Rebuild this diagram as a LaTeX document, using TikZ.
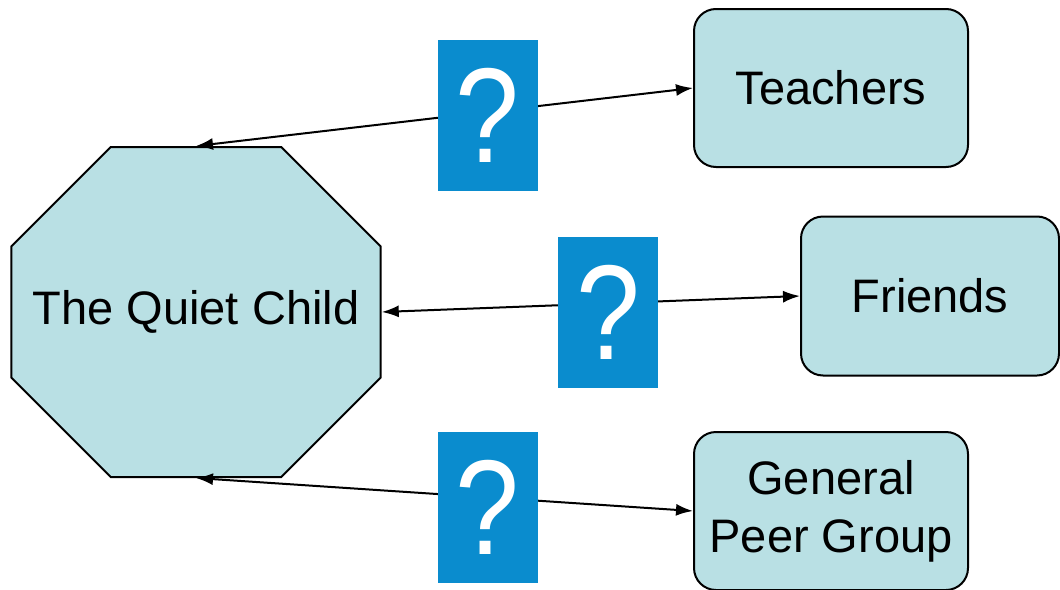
\documentclass[tikz,border=0pt]{standalone}
\usepackage{fontspec}
\setmainfont{Liberation Sans}
\usetikzlibrary{shapes.misc,arrows.meta}
\definecolor{boxfill}{RGB}{185,224,228}
\definecolor{qblue}{RGB}{10,140,206}

\begin{document}
\begin{tikzpicture}[x=1pt,y=-1pt,
  octa/.style={draw,line width=2pt,fill=boxfill,chamfered rectangle,
    chamfered rectangle xsep=80pt,chamfered rectangle ysep=78pt,
    minimum width=360pt,minimum height=330pt,inner sep=0pt,
    font=\fontsize{47}{57}\selectfont},
  peerbox/.style={draw,line width=2pt,fill=boxfill,rounded corners=22pt,
    minimum width=274pt,minimum height=158pt,align=center,inner sep=0pt,
    font=\fontsize{47}{58}\selectfont},
  qmark/.style={fill=qblue,text=white,minimum width=100pt,minimum height=151pt,
    inner sep=0pt,font=\fontsize{135}{135}\selectfont},
  link/.style={line width=2pt,{Latex[length=17pt,width=12pt]}-{Latex[length=17pt,width=12pt]}}]
\useasboundingbox (0,0) rectangle (1060,589);

\node[octa] (quiet) at (196,312) {The Quiet Child};
\node[peerbox] (teach) at (831,88) {Teachers};
\node[peerbox,minimum width=258pt,minimum height=159pt] (friend) at (930,296) {Friends};
\node[peerbox] (peer) at (831,511) {General\\Peer Group};

% connectors
\draw[link] (quiet.north) -- (teach.west);
\draw[link] (quiet.east) -- (friend.west);
\draw[link] (quiet.south) -- (peer.west);

% the unknowns
\node[qmark] (q1) at (487.5,115.5) {\scalebox{0.85}[1]{?}};
\node[qmark] (q2) at (608,312) {\scalebox{0.85}[1]{?}};
\node[qmark] (q3) at (487.5,507.5) {\scalebox{0.85}[1]{?}};
\end{tikzpicture}
\end{document}
